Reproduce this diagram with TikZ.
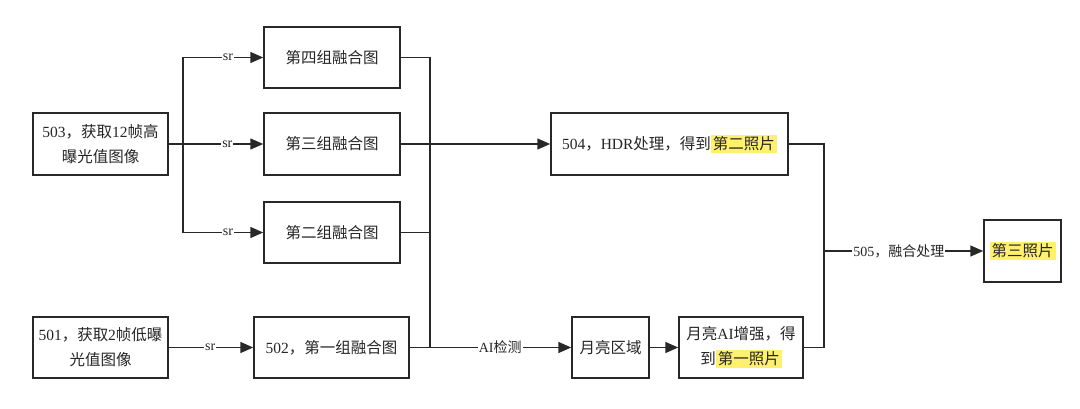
\documentclass[tikz,border=0pt]{standalone}
\usepackage{fontspec}
\setmainfont{Liberation Serif}
\newfontfamily\zh{Noto Sans CJK SC}
\usetikzlibrary{arrows.meta}
\definecolor{ln}{RGB}{40,40,40}
\definecolor{hly}{RGB}{255,240,110}
\newcommand{\hlt}[1]{{\setlength{\fboxsep}{2pt}\colorbox{hly}{#1}}}
\begin{document}
\begin{tikzpicture}[x=1pt,y=-1pt,
  box/.style={draw=ln, line width=1.5pt, align=center, inner sep=2pt, text=black!85, font=\fontsize{15.5}{25}\selectfont},
  conn/.style={draw=ln, line width=1.5pt},
  arr/.style={conn, -{Triangle[length=13pt,width=11pt]}},
  lab/.style={fill=white, inner sep=1pt, text=black!85, font=\fontsize{14}{16}\selectfont}]
\useasboundingbox (0,0) rectangle (1080,409);
\fill[white] (0,0) rectangle (1080,409);

\node[box, minimum width=135pt, minimum height=62pt] (n503) at (100.5,144) {503{\zh，获取}12{\zh 帧高}\\{\zh 曝光值图像}};
\node[box, minimum width=135pt, minimum height=61pt] (n501) at (100.5,347.5) {501{\zh，获取}2{\zh 帧低曝}\\{\zh 光值图像}};
\node[box, minimum width=136pt, minimum height=61pt] (n4) at (332,57.5) {\zh 第四组融合图};
\node[box, minimum width=136pt, minimum height=62pt] (n3) at (332,144) {\zh 第三组融合图};
\node[box, minimum width=136pt, minimum height=61pt] (n2) at (332,232.5) {\zh 第二组融合图};
\node[box, minimum width=155pt, minimum height=61pt] (n502) at (331.5,347.5) {502{\zh，第一组融合图}};
\node[box, minimum width=237pt, minimum height=62pt] (n504) at (669.5,144) {504{\zh，}HDR{\zh 处理，得到}\hlt{\zh 第二照片}};
\node[box, minimum width=77pt, minimum height=61pt] (nmr) at (610.5,347.5) {\zh 月亮区域};
\node[box, minimum width=124pt, minimum height=61pt] (nai) at (741,347.5) {{\zh 月亮}AI{\zh 增强，得}\\{\zh 到}\hlt{\zh 第一照片}};
\node[box, minimum width=77pt, minimum height=62pt] (n3p) at (1022.5,251) {\hlt{\zh 第三照片}};

\coordinate (jl) at (183,144);
\coordinate (bb) at (430,347.5);
\coordinate (br) at (824,251);

\draw[arr] (n503.east) -- node[lab, pos=0.62]{sr} (n3.west);
\draw[arr] (jl) |- node[lab, pos=0.78]{sr} (n4.west);
\draw[arr] (jl) |- node[lab, pos=0.78]{sr} (n2.west);
\draw[arr] (n501.east) -- node[lab, pos=0.49]{sr} (n502.west);

\draw[conn] (n4.east) -| (bb);
\draw[conn] (n2.east) -- (n2.east -| bb);
\draw[arr] (n3.east) -- (n504.west);
\draw[arr] (n502.east) -- node[lab, pos=0.56]{AI{\zh 检测}} (nmr.west);
\draw[arr] (nmr.east) -- (nai.west);

\draw[conn] (n504.east) -| (br) |- (nai.east);
\draw[arr] (br) -- node[lab, pos=0.47]{505{\zh，融合处理}} (n3p.west);
\end{tikzpicture}
\end{document}
